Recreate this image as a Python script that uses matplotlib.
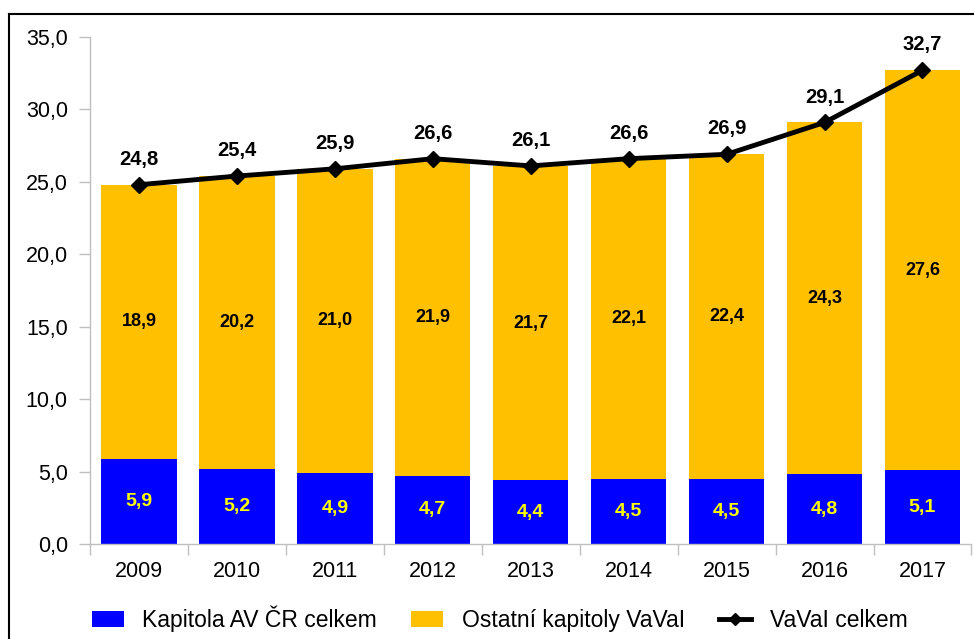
"""
Stacked bar chart of VaVaI expenditure with total line.
"""

import numpy as np
import matplotlib
matplotlib.use("Agg")
import matplotlib.pyplot as plt
from matplotlib.lines import Line2D
from matplotlib.patches import Patch
from matplotlib.ticker import FuncFormatter, FixedLocator

plt.rcParams['font.family'] = ['Liberation Sans', 'DejaVu Sans']

years = ["2009", "2010", "2011", "2012", "2013", "2014", "2015", "2016", "2017"]
kapitola_av = [5.9, 5.2, 4.9, 4.7, 4.4, 4.5, 4.5, 4.8, 5.1]
ostatni = [18.9, 20.2, 21.0, 21.9, 21.7, 22.1, 22.4, 24.3, 27.6]
vavai_celkem = [24.8, 25.4, 25.9, 26.6, 26.1, 26.6, 26.9, 29.1, 32.7]

BLUE = "#0000FF"
ORANGE = "#FFC000"
GRAY = "#BFBFBF"


def cz(v):
    return f"{v:.1f}".replace(".", ",")


fig = plt.figure(figsize=(9.74, 6.39), dpi=100)
ax = fig.add_axes([0.0924, 0.1487, 0.905, 0.7934])

x = np.arange(len(years))
width = 0.77
ax.bar(x, kapitola_av, width, color=BLUE, zorder=2)
ax.bar(x, ostatni, width, bottom=kapitola_av, color=ORANGE, zorder=2)
ax.plot(x, vavai_celkem, color="black", lw=3.5, marker="D", markersize=8, zorder=3)

# data labels
for i in range(len(years)):
    ax.text(x[i], kapitola_av[i] / 2, cz(kapitola_av[i]), ha="center", va="center",
            color="#FFFF00", fontsize=14, fontweight="bold", zorder=4)
    ax.text(x[i], kapitola_av[i] + ostatni[i] / 2, cz(ostatni[i]), ha="center", va="center",
            color="black", fontsize=13, fontweight="bold", zorder=4)
    ax.text(x[i], vavai_celkem[i] + 1.1, cz(vavai_celkem[i]), ha="center", va="bottom",
            color="black", fontsize=14.5, fontweight="bold", zorder=4)

ax.set_xlim(-0.5, len(years) - 0.5)
ax.set_ylim(0, 35)
ax.set_yticks(np.arange(0, 36, 5))
ax.yaxis.set_major_formatter(FuncFormatter(lambda v, p: cz(v)))
ax.set_xticks(x)
ax.set_xticklabels(years)
ax.xaxis.set_minor_locator(FixedLocator(np.arange(-0.5, len(years), 1)))
ax.tick_params(axis="x", which="major", length=0, pad=12, labelsize=15.5)
ax.tick_params(axis="x", which="minor", length=8, color=GRAY, width=1)
ax.tick_params(axis="y", length=8, color=GRAY, width=1, labelsize=15.5, pad=8)

for kw in ("top", "right"):
    ax.spines[kw].set_visible(False)
for kw in ("left", "bottom"):
    ax.spines[kw].set_color(GRAY)
    ax.spines[kw].set_linewidth(1)

handles = [Patch(facecolor=BLUE), Patch(facecolor=ORANGE),
           Line2D([0], [0], color="black", lw=3.5, marker="D", markersize=6)]
labels = ["Kapitola AV ČR celkem", "Ostatní kapitoly VaVaI", "VaVaI celkem"]
fig.legend(handles, labels, loc="center", bbox_to_anchor=(0.513, 0.031), ncol=3,
           frameon=False, fontsize=16.5, handlelength=1.4, handleheight=0.7,
           columnspacing=1.5, handletextpad=0.8)

# outer frame (left and top edges visible)
fig.add_artist(Line2D([9 / 974, 9 / 974], [0, 1 - 14 / 639], color="black", lw=1.5,
                      transform=fig.transFigure))
fig.add_artist(Line2D([9 / 974, 1], [1 - 14 / 639, 1 - 14 / 639], color="black", lw=1.5,
                      transform=fig.transFigure))

fig.savefig("out.png", dpi=100)
